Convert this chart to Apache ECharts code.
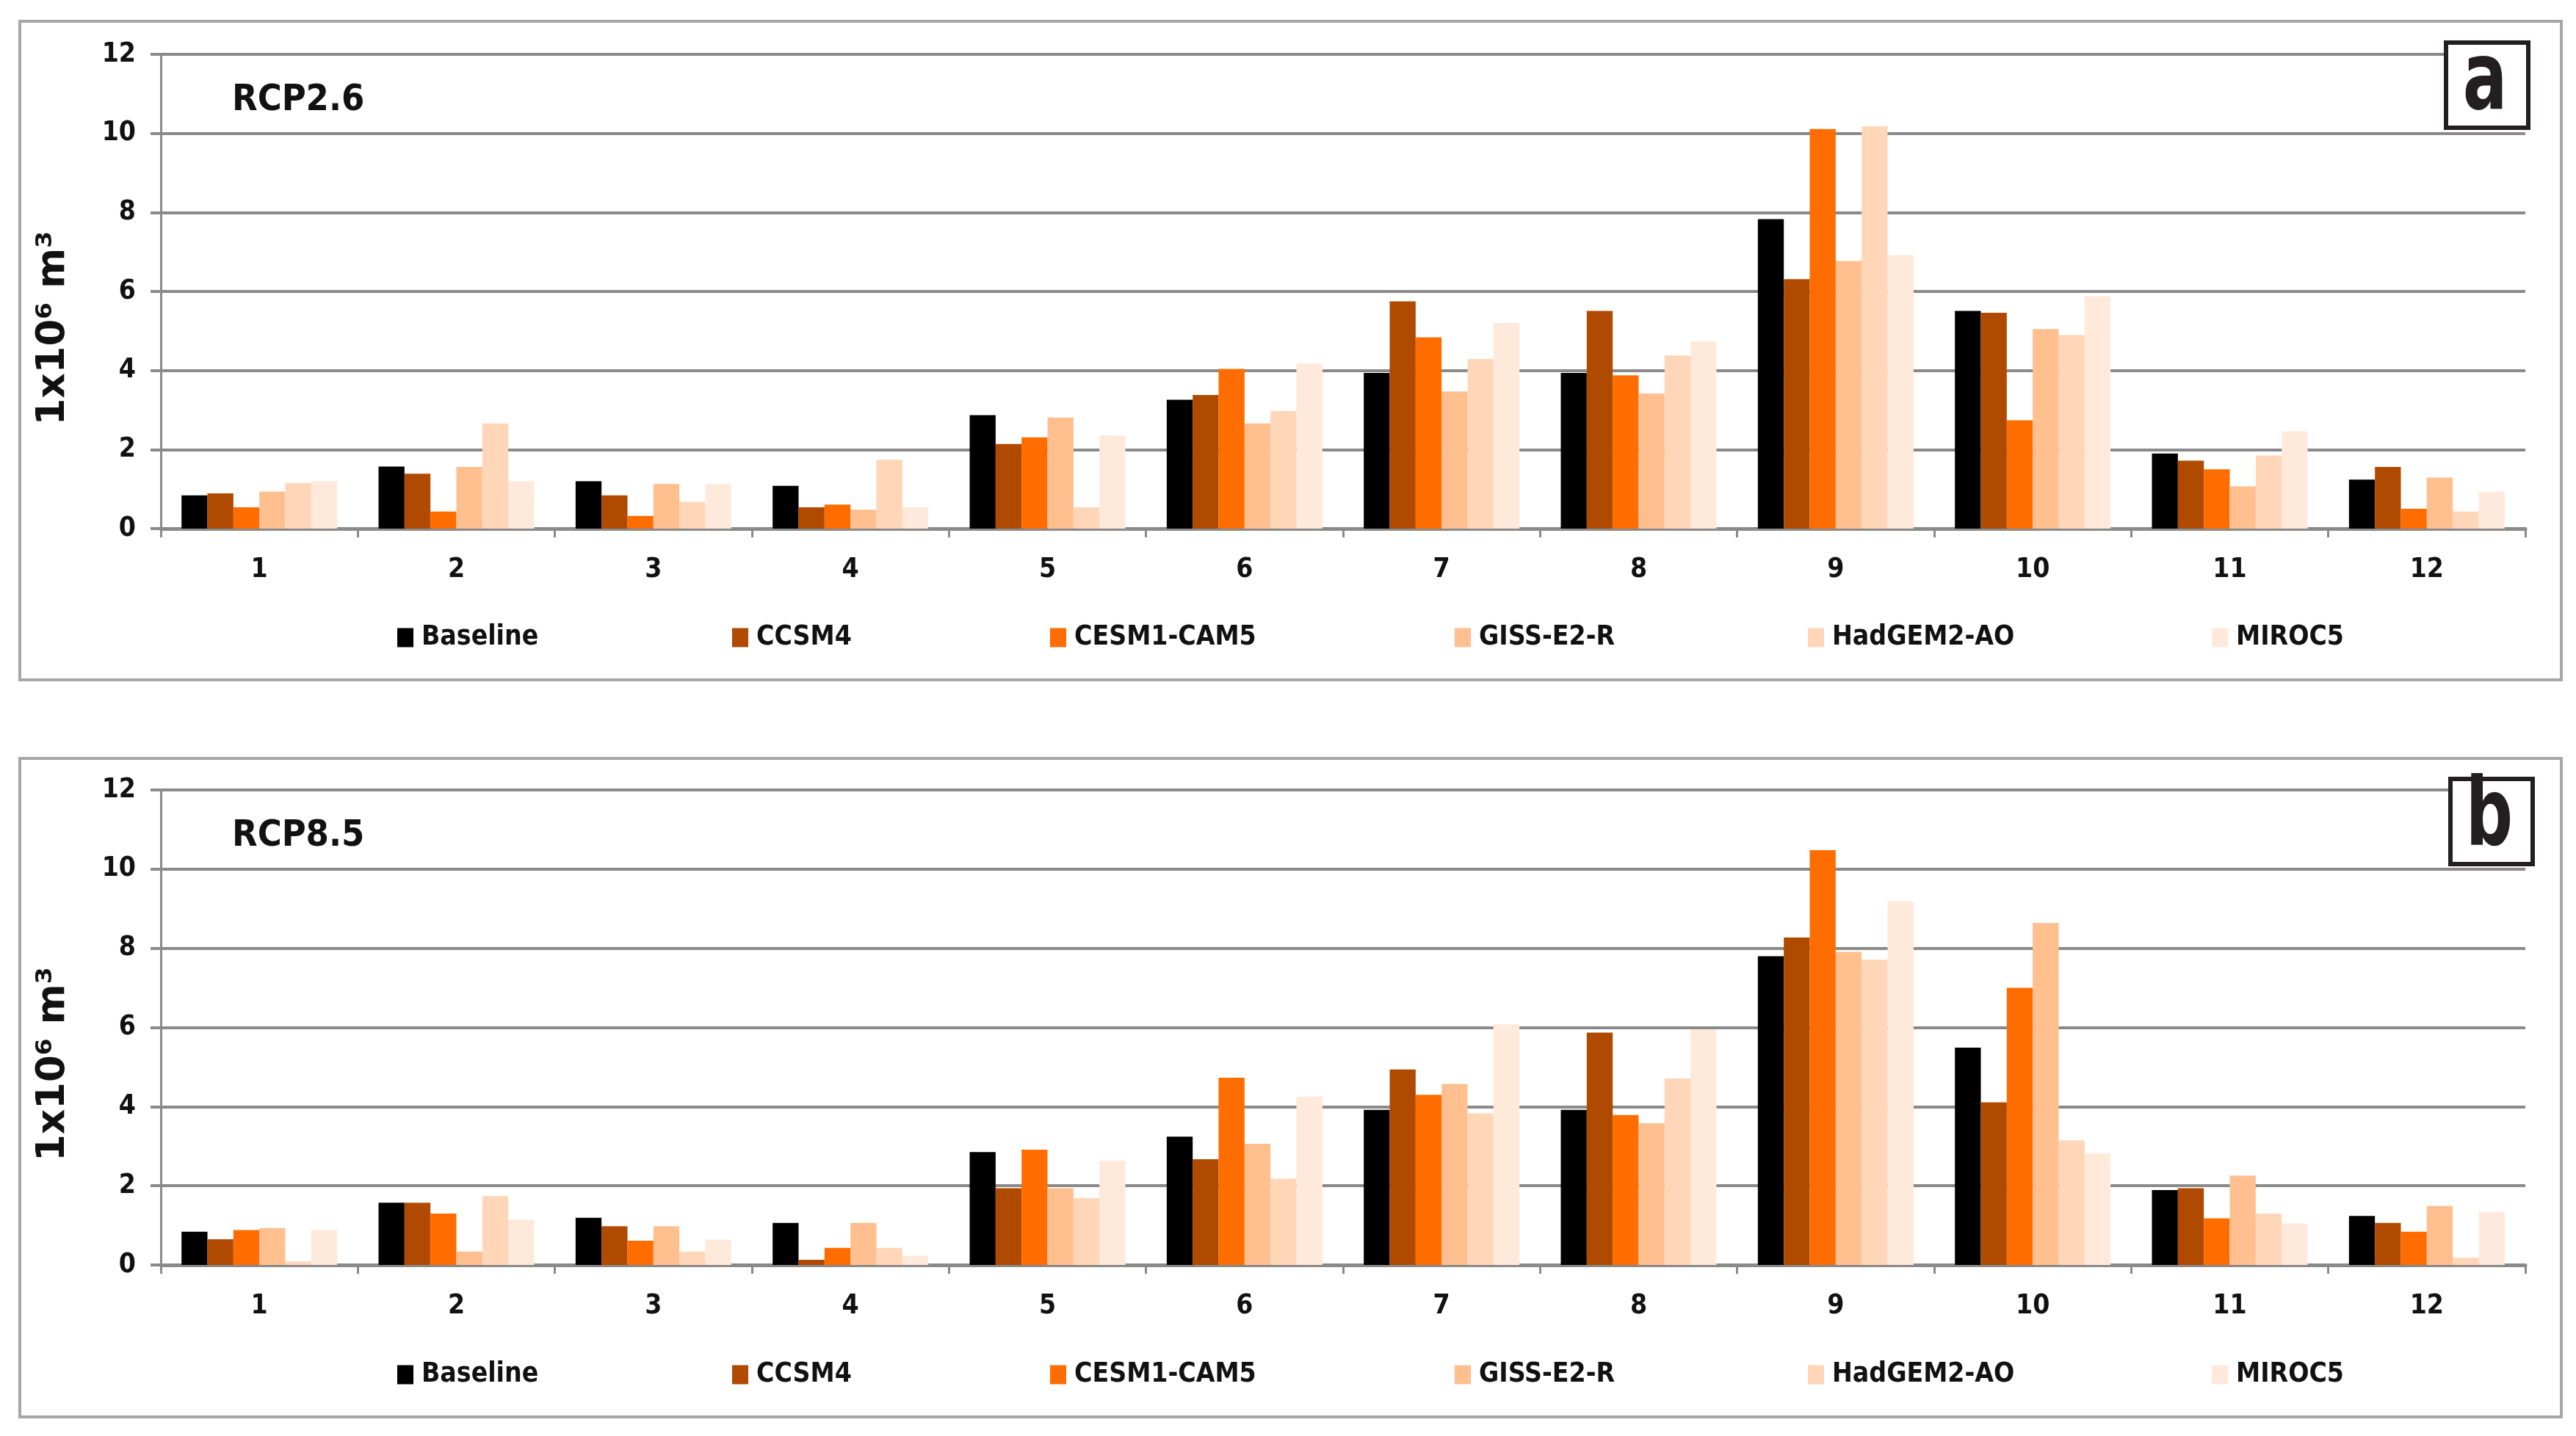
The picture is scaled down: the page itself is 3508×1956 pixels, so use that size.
<!DOCTYPE html>
<html>
<head>
<meta charset="utf-8">
<script src="https://cdn.jsdelivr.net/npm/echarts@6/dist/echarts.min.js"></script>
<style>
html,body{margin:0;padding:0;background:#fff;}
#c{width:3508px;height:1956px;}
</style>
</head>
<body>
<div id="c"></div>
<script>
const months = ['1','2','3','4','5','6','7','8','9','10','11','12'];
const seriesNames = ['Baseline','CCSM4','CESM1-CAM5','GISS-E2-R','HadGEM2-AO','MIROC5'];
const yTicks = [0,2,4,6,8,10,12];
const panelTitles = ['RCP2.6','RCP8.5'];
const panelLetters = ['a','b'];

// Panel a: RCP2.6
const a_baseline = [0.84,1.57,1.20,1.08,2.87,3.26,3.94,3.94,7.83,5.51,1.90,1.24];
const a_ccsm4    = [0.89,1.39,0.84,0.54,2.14,3.38,5.75,5.51,6.31,5.46,1.72,1.56];
const a_cesm     = [0.54,0.43,0.32,0.61,2.31,4.04,4.84,3.88,10.11,2.74,1.50,0.50];
const a_giss     = [0.94,1.56,1.13,0.48,2.81,2.66,3.47,3.42,6.77,5.05,1.07,1.29];
const a_hadgem   = [1.15,2.66,0.68,1.74,0.54,2.97,4.29,4.38,10.18,4.90,1.85,0.43];
const a_miroc    = [1.20,1.20,1.13,0.54,2.36,4.18,5.20,4.73,6.92,5.88,2.46,0.93];

// Panel b: RCP8.5
const b_baseline = [0.84,1.57,1.19,1.06,2.85,3.24,3.92,3.92,7.80,5.49,1.89,1.24];
const b_ccsm4    = [0.65,1.57,0.98,0.13,1.94,2.67,4.94,5.87,8.27,4.11,1.94,1.06];
const b_cesm     = [0.88,1.30,0.61,0.43,2.91,4.73,4.30,3.79,10.48,7.00,1.18,0.84];
const b_giss     = [0.93,0.34,0.98,1.06,1.94,3.06,4.57,3.58,7.91,8.64,2.26,1.49];
const b_hadgem   = [0.09,1.74,0.34,0.43,1.69,2.18,3.83,4.71,7.71,3.15,1.30,0.18];
const b_miroc    = [0.88,1.14,0.64,0.23,2.63,4.25,6.08,5.95,9.19,2.82,1.05,1.34];

const panelData = [
  [a_baseline,a_ccsm4,a_cesm,a_giss,a_hadgem,a_miroc],
  [b_baseline,b_ccsm4,b_cesm,b_giss,b_hadgem,b_miroc]
];
const colors = ['#000000','#B04A00','#FF6D00','#FFBF8F','#FFD6B8','#FFE9DB'];

const narrow = '"DejaVu Sans Condensed","DejaVu Sans",sans-serif';
const wide = '"DejaVu Sans",sans-serif';
const gridColor = '#8a8a8a';

const grids = [
  {left:219, top:74, width:3220, height:646},
  {left:219, top:1076, width:3220, height:647}
];
const frames = [{y:27,h:897},{y:1031,h:897}];
const legendLeft = [541, 997, 1430, 1981, 2462, 3012];
const legendTop = [850, 1854];
const boxes = [{x:3328,y:55},{x:3334,y:1058}];

const xAxes = [], yAxes = [], series = [], legends = [], graphics = [];
for (let p = 0; p < 2; p++) {
  xAxes.push({
    type:'category', gridIndex:p, data:months,
    axisLine:{show:true, lineStyle:{color:gridColor, width:5}},
    axisTick:{show:true, length:12, lineStyle:{color:gridColor, width:3}},
    axisLabel:{color:'#111', fontFamily:narrow, fontWeight:'bold', fontSize:37, margin:38},
    splitLine:{show:false}
  });
  yAxes.push({
    type:'value', gridIndex:p, min:0, max:12, interval:2,
    name:'1x10\u2076 m\u00b3', nameLocation:'middle', nameGap:119,
    nameTextStyle:{color:'#111', fontFamily:wide, fontWeight:'bold', fontSize:53, padding:[0,100,0,0]},
    axisLine:{show:true, lineStyle:{color:gridColor, width:3}},
    axisTick:{show:true, inside:false, length:14, lineStyle:{color:gridColor, width:4}},
    axisLabel:{color:'#111', fontFamily:narrow, fontWeight:'bold', fontSize:37, margin:34,
      formatter:(v)=> yTicks.includes(v) ? String(v) : ''},
    splitLine:{show:true, lineStyle:{color:gridColor, width:4}}
  });
  for (let i = 0; i < 6; i++) {
    series.push({
      name:seriesNames[i], type:'bar', xAxisIndex:p, yAxisIndex:p,
      data:panelData[p][i], barGap:'0%', barCategoryGap:'21%',
      itemStyle:{color:colors[i]}, emphasis:{disabled:true}, animation:false
    });
    legends.push({
      data:[seriesNames[i]], left:legendLeft[i], top:legendTop[p], padding:0,
      icon:'rect', itemWidth:22, itemHeight:26, selectedMode:false,
      textStyle:{color:'#111', fontFamily:narrow, fontWeight:'bold', fontSize:37, padding:[0,0,0,6]}
    });
  }
  graphics.push({
    type:'rect', left:25, top:frames[p].y, z:-10, silent:true,
    shape:{width:3461, height:frames[p].h},
    style:{fill:'#fff', stroke:'#a6a6a6', lineWidth:4}
  });
  graphics.push({
    type:'text', left:316, top:grids[p].top + 38, z:100,
    style:{text:panelTitles[p], fill:'#111', font:'bold 50px ' + narrow}
  });
  graphics.push({
    type:'rect', left:boxes[p].x, top:boxes[p].y, z:100,
    shape:{width:112, height:116},
    style:{fill:'#fff', stroke:'#231f20', lineWidth:6}
  });
  graphics.push({
    type:'text', x:boxes[p].x + 56, y:boxes[p].y + 60, z:101, scaleX:0.78,
    style:{text:panelLetters[p], fill:'#231f20', font:'bold 128px ' + narrow, align:'center', verticalAlign:'middle'}
  });
}

const chart = echarts.init(document.getElementById('c'), null, {renderer:'canvas'});
chart.setOption({
  backgroundColor:'#ffffff',
  animation:false,
  grid:grids,
  xAxis:xAxes,
  yAxis:yAxes,
  legend:legends,
  series:series,
  graphic:graphics
});
</script>
</body>
</html>
